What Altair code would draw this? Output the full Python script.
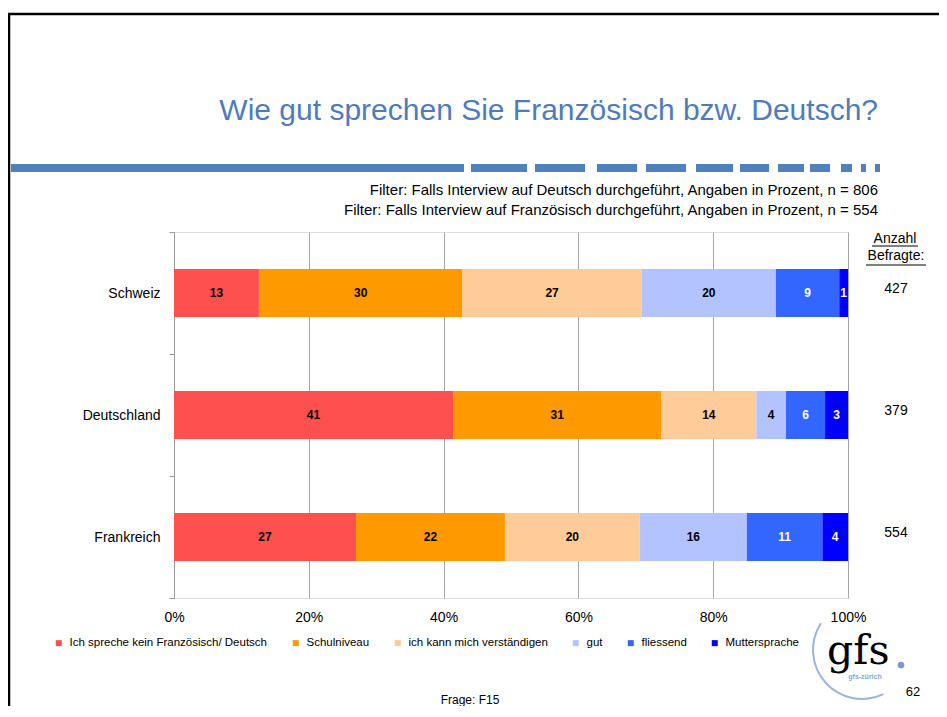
import altair as alt
import pandas as pd

countries = ["Schweiz", "Deutschland", "Frankreich"]
segments = ["Ich spreche kein Französisch/ Deutsch", "Schulniveau", "ich kann mich verständigen",
            "gut", "fliessend", "Muttersprache"]
colors = ["#FF5050", "#FF9900", "#FFCC99", "#B3C3FF", "#3366FF", "#0000FF"]
label_colors = ["black", "black", "black", "black", "white", "white"]
schweiz = [12.6, 30.2, 26.6, 19.9, 9.4, 1.3]
deutschland = [41.4, 30.9, 14.1, 4.4, 5.8, 3.4]
frankreich = [27.0, 22.1, 20.0, 15.9, 11.2, 3.8]
respondents = [427, 379, 554]
x_ticks = [0, 0.2, 0.4, 0.6, 0.8, 1.0]

title_text = "Wie gut sprechen Sie Französisch bzw. Deutsch?"
filter_lines = ["Filter: Falls Interview auf Deutsch durchgeführt, Angaben in Prozent, n = 806",
                "Filter: Falls Interview auf Französisch durchgeführt, Angaben in Prozent, n = 554"]

FONT = "Liberation Sans"

rows = []
for c, vals in zip(countries, [schweiz, deutschland, frankreich]):
    for i, (s, v) in enumerate(zip(segments, vals)):
        rows.append({"country": c, "segment": s, "idx": i, "value": v, "lc": label_colors[i]})
df = pd.DataFrame(rows)
resp_df = pd.DataFrame({"country": countries, "n": respondents})
one = pd.DataFrame({"a": [0]})

ysc = alt.Y("country:N", sort=countries, title=None,
            scale=alt.Scale(paddingInner=0, paddingOuter=0),
            axis=alt.Axis(tickBand="extent", tickSize=5, tickColor="#999999", domainColor="#999999",
                          labelFontSize=14, labelColor="black", labelPadding=9, labelFont=FONT,
                          grid=False))

base = alt.Chart(df).transform_stack(
    stack="value", as_=["s0", "s1"], groupby=["country"], sort=[alt.SortField("idx", order="ascending")]
).transform_calculate(
    x0="datum.s0/100", x1="datum.s1/100", xm="(datum.s0+datum.s1)/200"
)

bars = base.mark_bar(size=48).encode(
    y=ysc,
    x=alt.X("x0:Q", scale=alt.Scale(domain=[0, 1], nice=False),
            axis=alt.Axis(values=x_ticks, format=".0%", grid=True, gridColor="#a6a6a6", domain=False,
                          ticks=False, labelPadding=12, labelFontSize=14, labelColor="black",
                          labelFont=FONT, labelFlush=False, title=None)),
    x2="x1:Q",
    color=alt.Color("segment:N", scale=alt.Scale(domain=segments, range=colors),
                    legend=alt.Legend(orient="none", legendX=-121, legendY=405, direction="horizontal",
                                      columns=6, columnPadding=22, symbolType="square", symbolSize=36,
                                      symbolStrokeWidth=0, labelFontSize=11.5, labelFont=FONT,
                                      labelColor="black", labelOffset=5, labelLimit=0, title=None)),
)

labels = base.mark_text(fontSize=12, fontWeight="bold", font=FONT, baseline="middle").encode(
    y=alt.Y("country:N", sort=countries),
    x=alt.X("xm:Q"),
    text=alt.Text("value:Q", format=".0f"),
    color=alt.Color("lc:N", scale=None, legend=None),
)

resp = alt.Chart(resp_df).mark_text(fontSize=14, font=FONT, color="black", align="center",
                                    baseline="alphabetic").encode(
    y=alt.Y("country:N", sort=countries), x=alt.value(722), text="n:Q")

def txt(t, x, y, size, color="black", align="center", **kw):
    return alt.Chart(one).mark_text(text=t, fontSize=size, color=color, align=align,
                                    baseline="alphabetic", font=kw.pop("font", FONT), **kw).encode(
        x=alt.value(x), y=alt.value(y))

def rule(x1, x2, y1, y2, color, width, **kw):
    return alt.Chart(one).mark_rule(color=color, strokeWidth=width, **kw).encode(
        x=alt.value(x1), x2=alt.value(x2), y=alt.value(y1), y2=alt.value(y2))

title = txt(title_text, 704, -112, 30, color="#4F7BBD", align="right")
f1 = txt(filter_lines[0], 704, -37, 15, align="right")
f2 = txt(filter_lines[1], 704, -17, 15, align="right")
anz = txt("Anzahl", 721, 11, 14)
bef = txt("Befragte:", 722, 28, 14)
u1 = rule(698, 744, 14, 14, "black", 1)
u2 = rule(692, 752, 33, 33, "black", 1)
frame_top = rule(-166, 780, -218, -218, "black", 2.5)
frame_left = rule(-165, -165, -219, 480, "black", 2.5)
dashed = rule(-163, 706, -64, -64, "#4F81BD", 8,
              strokeDash=[453, 7, 56, 8, 50, 12, 40, 9, 40, 10, 37, 7, 29, 9, 26, 6, 20, 11, 11, 9, 5, 9, 5, 100],
              strokeCap="butt")
frage = txt("Frage: F15", 296, 472, 12)
page = txt("62", 739, 464, 13)
gfs = txt("gfs", 653, 432, 41, align="left", font="DejaVu Serif")
gfs_sub = txt("gfs-zürich", 691, 447, 7, color="#8AA6D8", fontWeight="bold")
dot = alt.Chart(one).mark_circle(size=45, color="#7A9AD6", opacity=1).encode(
    x=alt.value(727), y=alt.value(433))
arc = alt.Chart(one).mark_arc(innerRadius=48, outerRadius=50, color="#9AB3DF").encode(
    x=alt.value(688), y=alt.value(418), theta=alt.value(2.69), theta2=alt.value(5.29))

chart = alt.layer(
    bars, labels, resp, title, f1, f2, anz, bef, u1, u2, frame_top, frame_left, dashed,
    frage, page, arc, gfs, gfs_sub, dot
).properties(
    width=674, height=366,
    autosize=alt.AutoSizeParams(type="none"),
    padding={"left": 166, "top": 224, "right": 91, "bottom": 108},
).configure_view(stroke=None).configure(font=FONT)

chart.save("out.html", embed_options={"renderer": "svg", "actions": False})
